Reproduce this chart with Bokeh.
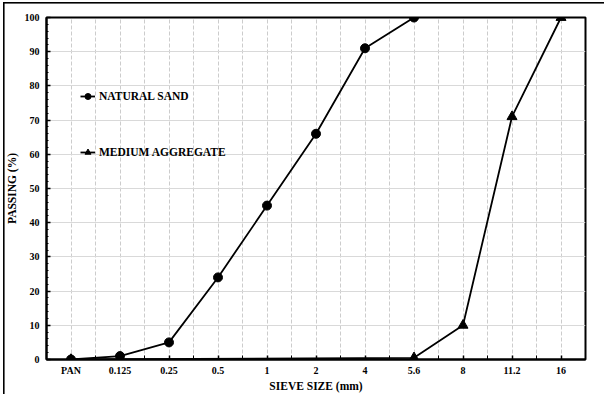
from bokeh.plotting import figure
from bokeh.models import FixedTicker, Legend, LegendItem
from bokeh.embed import file_html
from bokeh.resources import INLINE

sieves = ["PAN", "0.125", "0.25", "0.5", "1", "2", "4", "5.6", "8", "11.2", "16"]
sand_sieves = ["PAN", "0.125", "0.25", "0.5", "1", "2", "4", "5.6"]
sand_pass = [0, 1, 5, 24, 45, 66, 91, 100]
agg_sieves = ["PAN", "5.6", "8", "11.2", "16"]
agg_pass = [0, 0.5, 10, 71, 100]
y_ticks = list(range(0, 101, 10))

idx = {s: i for i, s in enumerate(sieves)}
sand_x = [idx[s] for s in sand_sieves]
agg_x = [idx[s] for s in agg_sieves]

FONT = "Liberation Serif"

p = figure(width=604, height=394, output_backend="svg", toolbar_location=None,
           x_range=(-0.5, len(sieves) - 0.5), y_range=(0, 100),
           min_border_left=46, min_border_right=19, min_border_top=17, min_border_bottom=35)
p.styles = {
    "background-color": "white",
    "background-image": "linear-gradient(black, black), linear-gradient(black, black)",
    "background-position": "3px 2px, 3px 2px",
    "background-size": "1.6px 400px, 700px 1.6px",
    "background-repeat": "no-repeat, no-repeat",
}
p.background_fill_color = "white"
p.border_fill_alpha = 0
p.outline_line_color = "black"
p.outline_line_width = 2

p.xaxis.ticker = FixedTicker(ticks=list(range(len(sieves))),
                             minor_ticks=[i - 0.5 for i in range(len(sieves) + 1)])
p.xaxis.major_label_overrides = {i: s for i, s in enumerate(sieves)}
p.xaxis.axis_label = "SIEVE SIZE (mm)"
p.yaxis.axis_label = "PASSING (%)"
p.yaxis.ticker = FixedTicker(ticks=y_ticks, minor_ticks=list(range(0, 101, 2)))

for ax in (p.xaxis[0], p.yaxis[0]):
    ax.axis_line_color = "black"
    ax.axis_line_width = 2
    ax.major_tick_line_color = "black"
    ax.minor_tick_line_color = "black"
    ax.major_tick_line_width = 1.5
    ax.major_tick_out = 0
    ax.minor_tick_out = 0
    ax.major_label_text_font = FONT
    ax.major_label_text_font_style = "bold"
    ax.major_label_text_font_size = "10px"
    ax.major_label_text_color = "black"
    ax.axis_label_text_font = FONT
    ax.axis_label_text_font_style = "bold"
    ax.axis_label_text_font_size = "11.5px"
    ax.axis_label_text_color = "black"

p.xaxis.major_tick_in = 4
p.xaxis.minor_tick_in = 4
p.xaxis.major_label_standoff = 5
p.xaxis.axis_label_standoff = 1
p.yaxis.major_tick_in = 4
p.yaxis.minor_tick_in = 2
p.yaxis.major_label_standoff = 7
p.yaxis.axis_label_standoff = 4

p.xgrid.grid_line_color = "#cccccc"
p.xgrid.grid_line_dash = "4 2"
p.xgrid.grid_line_width = 1
p.xgrid.minor_grid_line_color = "#cccccc"
p.xgrid.minor_grid_line_dash = "4 2"
p.ygrid.grid_line_color = "#d9d9d9"
p.ygrid.grid_line_width = 1.2

l1 = p.line(sand_x, sand_pass, line_color="black", line_width=1.8)
m1 = p.scatter(sand_x, sand_pass, marker="circle", size=9, fill_color="black", line_color="black")
l2 = p.line(agg_x, agg_pass, line_color="black", line_width=1.8)
m2 = p.scatter(agg_x, agg_pass, marker="triangle", size=10, fill_color="black", line_color="black")

legend = Legend(items=[LegendItem(label="NATURAL SAND", renderers=[l1, m1]),
                       LegendItem(label="MEDIUM AGGREGATE", renderers=[l2, m2])],
                location=(34, 197), padding=0, margin=0, spacing=36,
                glyph_width=15, glyph_height=20, label_height=20, label_standoff=4,
                border_line_color=None, background_fill_alpha=0,
                label_text_font=FONT, label_text_font_style="bold",
                label_text_font_size="11.5px", label_text_color="black")
p.add_layout(legend, "center")

open("out.html", "w").write(file_html(p, INLINE))
